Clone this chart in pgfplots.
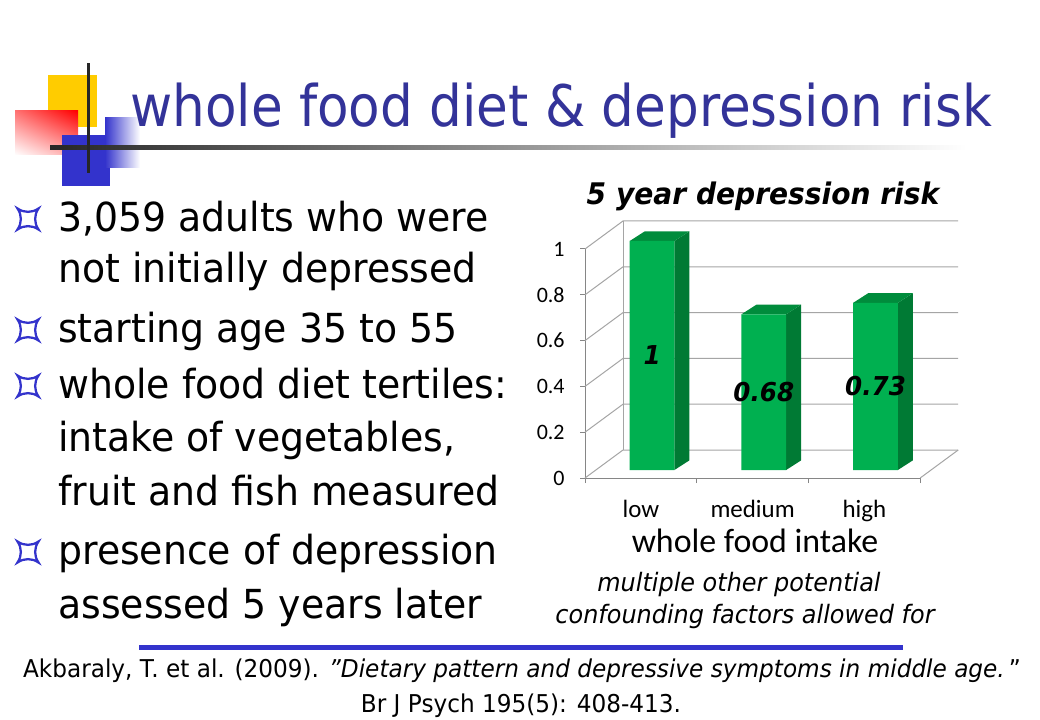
\documentclass[border=0pt]{standalone}
\usepackage{pgfplots}
\pgfplotsset{compat=1.18}
\usepackage{pgfplotstable}
\usetikzlibrary{shadings}
\usepackage{fontspec}
\setmainfont[FakeStretch=0.945]{DejaVu Sans}
\newfontfamily\titlefont[FakeStretch=0.9]{DejaVu Sans}
\newfontfamily\carlito{Carlito}
\definecolor{titleblue}{RGB}{51,51,153}
\definecolor{bulletblue}{RGB}{51,51,204}
\definecolor{frontgreen}{RGB}{0,176,80}
\definecolor{sidegreen}{RGB}{0,122,52}
\definecolor{topgreen}{RGB}{0,140,60}
\definecolor{gridgray}{RGB}{165,165,165}
\definecolor{axisgray}{RGB}{134,134,134}
\definecolor{logoyellow}{RGB}{255,204,0}
\definecolor{logoblue}{RGB}{51,51,204}

\pgfplotstableread{
x v
0 1
1 0.68
2 0.73
}\risk

\newcommand\bul[2]{\draw[bulletblue, line width=1.7pt]
  (#1-10.5,#2-10.5) .. controls (#1-4,#2-6) and (#1+4,#2-6) .. (#1+10.5,#2-10.5)
  .. controls (#1+6,#2-4) and (#1+6,#2+4) .. (#1+10.5,#2+10.5)
  .. controls (#1+4,#2+6) and (#1-4,#2+6) .. (#1-10.5,#2+10.5)
  .. controls (#1-6,#2+4) and (#1-6,#2-4) .. cycle;}

\begin{document}
\begin{tikzpicture}[x=0.75pt,y=-0.75pt]
\useasboundingbox (0,0) rectangle (1040,720);
\fill[white] (0,0) rectangle (1040,720);
\coordinate (O) at (585,478);

% logo
\fill[logoyellow] (48,75) rectangle (97,127);
\shade[upper left=red!55!white, upper right=red, lower left=white, lower right=red!35!white] (15,111) rectangle (78,155);
\fill[logoblue] (62,135) rectangle (110,186);
\shade[left color=logoblue, right color=white] (105,118) rectangle (140,168);
\shade[left color=black!85, middle color=black!40, right color=white] (50,146) rectangle (967,150);
\fill[black!85] (86.5,63) rectangle (89.5,173);

% title
\node[anchor=base west, inner sep=0, text=titleblue, font=\titlefont\fontsize{43}{50}\selectfont] at (130,127) {whole food diet \& depression risk};

% bullets
\begin{scope}[every node/.style={anchor=base west, inner sep=0, font=\fontsize{30}{34}\selectfont}]
\node at (58,232) {3,059 adults who were};
\node at (58,283) {not initially depressed};
\node at (58,343) {starting age 35 to 55};
\node at (58,399) {whole food diet tertiles:};
\node at (58,452) {intake of vegetables,};
\node at (58,505) {fruit and fish measured};
\node at (58,565) {presence of depression};
\node at (58,618) {assessed 5 years later};
\end{scope}
\bul{28}{219}
\bul{28}{330}
\bul{28}{386}
\bul{28}{552}

% chart texts
\node[anchor=base, inner sep=0, font=\bfseries\itshape\fontsize{22.3}{26}\selectfont] at (763,205) {5 year depression risk};
\node[anchor=base, inner sep=0, font=\carlito\fontsize{25.4}{28}\selectfont] at (755,552) {whole food intake};
\node[anchor=base, inner sep=0, font=\itshape\fontsize{19}{22}\selectfont] at (739,591) {multiple other potential};
\node[anchor=base, inner sep=0, font=\itshape\fontsize{19}{22}\selectfont] at (745,623) {confounding factors allowed for};

% bottom
\draw[bulletblue, line width=3.75pt] (139,647) -- (903,647);
\node[anchor=base, inner sep=0, font=\fontsize{18.4}{22}\selectfont] at (522,677) {Akbaraly, T. et al. (2009). \textit{\char34 Dietary pattern and depressive symptoms in middle age.}\,\char34};
\node[anchor=base, inner sep=0, font=\fontsize{18.4}{22}\selectfont] at (521,712) {Br J Psych 195(5): 408-413.};

\begin{axis}[
  at={(O)}, anchor=south west,
  x=83.8pt, y=171.75pt,
  xmin=-0.5, xmax=2.5, ymin=0, ymax=1,
  clip=false,
  axis x line*=bottom, axis y line*=left,
  axis line style={draw=axisgray, line width=0.75pt},
  tick align=outside,
  every tick/.style={axisgray, line width=0.75pt},
  major tick length=3.75pt, minor tick length=3.75pt,
  ytick={0,0.2,0.4,0.6,0.8,1},
  xtick={0,1,2}, xticklabels={low,medium,high},
  minor xtick={-0.5,0.5,1.5,2.5},
  major x tick style={draw=none},
  /pgf/number format/assume math mode=true,
  yticklabel style={font=\carlito\fontsize{16.5}{18}\selectfont, xshift=-8pt},
  xticklabel style={font=\carlito\fontsize{18.7}{20}\selectfont, yshift=-9pt},
]
% back wall, left wall, floor grid
\pgfplotsinvokeforeach{0,0.2,0.4,0.6,0.8,1}{
  \draw[gridgray, line width=0.75pt] (axis cs:-0.5,#1) -- ++(28.5pt,21pt) -- ++(251.4pt,0pt);
}
\draw[gridgray, line width=0.75pt] (axis cs:2.5,0) -- ++(28.5pt,21pt);
\draw[gridgray, line width=0.75pt] ([shift={(28.5pt,21pt)}]axis cs:-0.5,0) -- ++(0pt,171.75pt);

% 3D sides and tops of bars
\pgfplotsinvokeforeach{0,1,2}{
  \pgfplotstablegetelem{#1}{v}\of\risk
  \let\val\pgfplotsretval
  \edef\tmp{%
    \noexpand\fill[sidegreen] ([shift={(25.16pt,6pt)}]axis cs:#1,0) -- ++(11.2pt,7.2pt)
      -- ([shift={(36.36pt,13.2pt)}]axis cs:#1,\val) -- ([shift={(25.16pt,6pt)}]axis cs:#1,\val) -- cycle;
    \noexpand\fill[topgreen] ([shift={(-8.36pt,6pt)}]axis cs:#1,\val) -- ([shift={(25.16pt,6pt)}]axis cs:#1,\val)
      -- ([shift={(36.36pt,13.2pt)}]axis cs:#1,\val) -- ([shift={(2.84pt,13.2pt)}]axis cs:#1,\val) -- cycle;
  }\tmp
}

% front faces
\addplot[ybar, bar width=0.4, bar shift=0.1, fill=frontgreen, draw=none, yshift=6pt] table[x=x, y=v] {\risk};

% value labels
\pgfplotsinvokeforeach{0,1,2}{
  \pgfplotstablegetelem{#1}{v}\of\risk
  \let\val\pgfplotsretval
  \pgfmathsetmacro\half{\val/2}
  \edef\tmp{%
    \noexpand\node[font=\noexpand\bfseries\noexpand\itshape\noexpand\fontsize{19.5}{22}\noexpand\selectfont, inner sep=0]
      at ([shift={(8.4pt,6pt)}]axis cs:#1,\half) {\val};
  }\tmp
}
\end{axis}
\end{tikzpicture}
\end{document}
